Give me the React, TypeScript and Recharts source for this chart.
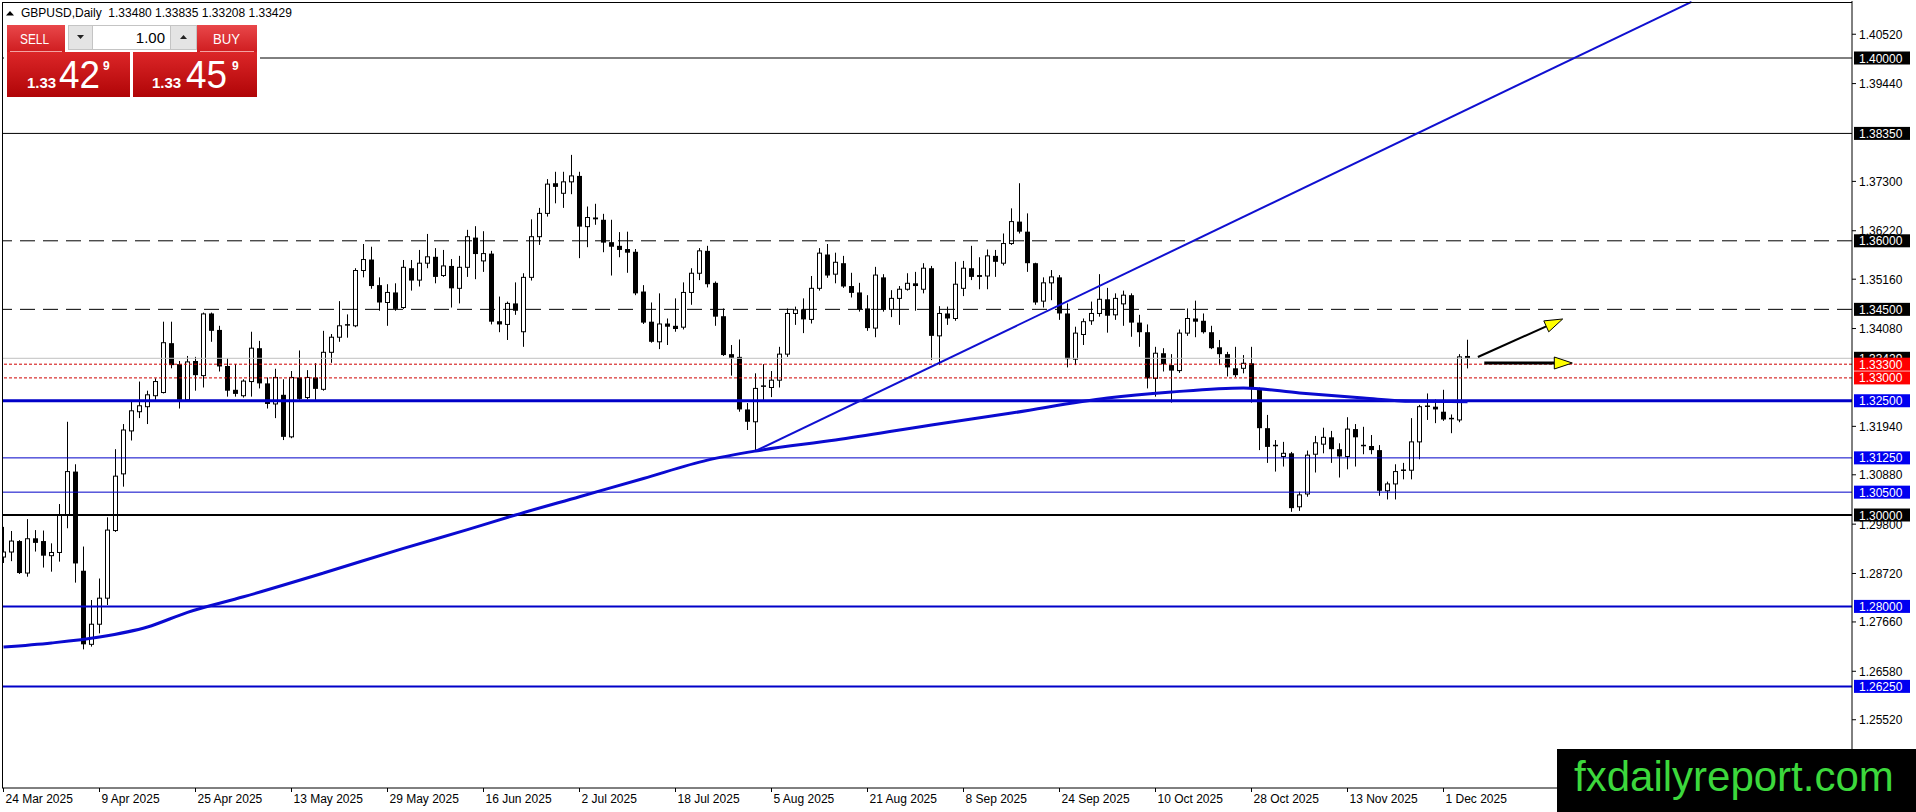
import { ComposedChart, Bar, Line, XAxis, YAxis, ReferenceLine } from "recharts"

// GBPUSD daily, one value per bar (bar 0 = 24 Mar 2025)
const opens = [
  1.2908, 1.2919, 1.2943, 1.2873, 1.2949, 1.2943, 1.2911, 1.2918, 1.3, 1.3095,
  1.2878, 1.2717, 1.2761, 1.2818, 1.2966, 1.309, 1.3184, 1.3226, 1.3237, 1.3261,
  1.3268, 1.3376, 1.333, 1.3252, 1.3337, 1.3305, 1.3441, 1.3405, 1.3326, 1.3274,
  1.3261, 1.3292, 1.3365, 1.3288, 1.3243, 1.3263, 1.3171, 1.3301, 1.3257, 1.3301,
  1.3275, 1.3356, 1.3389, 1.3414, 1.3414, 1.3535, 1.3559, 1.3503, 1.3465, 1.3487,
  1.3454, 1.354, 1.3514, 1.3551, 1.3565, 1.3524, 1.3545, 1.3496, 1.3542, 1.3607,
  1.3556, 1.3572, 1.3424, 1.3417, 1.3463, 1.3401, 1.352, 1.3609, 1.366, 1.3726,
  1.3704, 1.3729, 1.3742, 1.3631, 1.3651, 1.3646, 1.3597, 1.3589, 1.3582, 1.3576,
  1.3489, 1.3423, 1.3379, 1.3419, 1.3414, 1.3411, 1.3487, 1.3529, 1.3578, 1.3508,
  1.3435, 1.3352, 1.3346, 1.3231, 1.3204, 1.3279, 1.3279, 1.3295, 1.3352, 1.3441,
  1.345, 1.3428, 1.3496, 1.357, 1.3527, 1.3551, 1.3501, 1.3487, 1.3452, 1.3409,
  1.352, 1.345, 1.3474, 1.3494, 1.3507, 1.3494, 1.354, 1.3392, 1.3441, 1.343,
  1.3496, 1.354, 1.3525, 1.3523, 1.3567, 1.3551, 1.3594, 1.3642, 1.362, 1.3551,
  1.3468, 1.3508, 1.352, 1.3441, 1.3341, 1.3395, 1.3425, 1.3441, 1.3472, 1.3438,
  1.3462, 1.3481, 1.3421, 1.34, 1.3299, 1.3354, 1.3328, 1.3316, 1.3398, 1.343,
  1.3425, 1.34, 1.3367, 1.3352, 1.3321, 1.3321, 1.3332, 1.3274, 1.319, 1.315,
  1.3128, 1.3135, 1.3018, 1.3046, 1.3133, 1.3155, 1.317, 1.3144, 1.3128, 1.3188,
  1.3152, 1.3151, 1.3142, 1.3053, 1.3068, 1.3096, 1.3098, 1.316, 1.3236, 1.3237,
  1.3226, 1.3209, 1.3208, 1.3348,
]
const highs = [
  1.2974, 1.2965, 1.2945, 1.2991, 1.2967, 1.2966, 1.2938, 1.3024, 1.3204, 1.3111,
  1.2931, 1.2814, 1.2861, 1.2995, 1.3144, 1.3199, 1.3248, 1.3292, 1.3272, 1.3299,
  1.3423, 1.3423, 1.3337, 1.3348, 1.3346, 1.3443, 1.3443, 1.3414, 1.3343, 1.333,
  1.3297, 1.3401, 1.3381, 1.3301, 1.332, 1.3297, 1.3315, 1.336, 1.3317, 1.3332,
  1.3403, 1.3396, 1.3468, 1.3439, 1.354, 1.3593, 1.3587, 1.352, 1.3505, 1.3507,
  1.3558, 1.3558, 1.358, 1.3615, 1.3584, 1.358, 1.356, 1.3567, 1.3624, 1.3632,
  1.3621, 1.3578, 1.3478, 1.3467, 1.3509, 1.3529, 1.3647, 1.3672, 1.3735, 1.3751,
  1.3751, 1.3788, 1.3751, 1.3675, 1.3681, 1.3659, 1.3646, 1.3619, 1.362, 1.3582,
  1.3503, 1.3465, 1.3485, 1.343, 1.3474, 1.3509, 1.354, 1.3584, 1.3589, 1.3511,
  1.3452, 1.3372, 1.3384, 1.3245, 1.331, 1.333, 1.3315, 1.3368, 1.3452, 1.3456,
  1.3474, 1.3523, 1.3584, 1.3593, 1.3574, 1.3567, 1.353, 1.3508, 1.3481, 1.3543,
  1.3527, 1.3492, 1.3501, 1.3529, 1.3532, 1.3551, 1.3545, 1.3457, 1.3456, 1.3554,
  1.3556, 1.3589, 1.3564, 1.3581, 1.358, 1.3616, 1.3671, 1.3726, 1.366, 1.3552,
  1.352, 1.3536, 1.3525, 1.3463, 1.3412, 1.343, 1.3467, 1.3527, 1.3497, 1.3485,
  1.3491, 1.3485, 1.3438, 1.3417, 1.3368, 1.3365, 1.3352, 1.3406, 1.3452, 1.3469,
  1.3441, 1.3414, 1.3383, 1.3357, 1.3368, 1.335, 1.3368, 1.3279, 1.3219, 1.3164,
  1.316, 1.3138, 1.3051, 1.3141, 1.3173, 1.3191, 1.3184, 1.3157, 1.3214, 1.3199,
  1.3193, 1.3175, 1.3153, 1.3073, 1.3111, 1.3114, 1.3212, 1.3241, 1.3266, 1.3253,
  1.3274, 1.322, 1.3352, 1.33835,
]
const lows = [
  1.2895, 1.2899, 1.2871, 1.2865, 1.292, 1.2885, 1.2876, 1.2898, 1.2971, 1.2852,
  1.2706, 1.2712, 1.2741, 1.2803, 1.2963, 1.3062, 1.3163, 1.3212, 1.3199, 1.3252,
  1.3266, 1.3321, 1.3233, 1.3249, 1.3272, 1.3279, 1.3379, 1.3314, 1.3259, 1.3259,
  1.3257, 1.3259, 1.3277, 1.3233, 1.3212, 1.3164, 1.3168, 1.3252, 1.3253, 1.3252,
  1.3272, 1.3333, 1.3379, 1.3388, 1.3411, 1.352, 1.3495, 1.3447, 1.3414, 1.3447,
  1.3451, 1.3491, 1.35, 1.354, 1.3507, 1.3521, 1.3454, 1.3463, 1.3521, 1.3516,
  1.3532, 1.3417, 1.34, 1.3383, 1.3438, 1.3368, 1.3513, 1.3591, 1.3653, 1.3682,
  1.3672, 1.3702, 1.3562, 1.3586, 1.3635, 1.3575, 1.3524, 1.3564, 1.353, 1.3481,
  1.3418, 1.3377, 1.3363, 1.3372, 1.3401, 1.3406, 1.346, 1.3514, 1.3498, 1.3414,
  1.3348, 1.3305, 1.3226, 1.3186, 1.314, 1.3252, 1.3258, 1.3279, 1.3346, 1.3416,
  1.3398, 1.3419, 1.3491, 1.3519, 1.3507, 1.3497, 1.3476, 1.3445, 1.3403, 1.3389,
  1.3445, 1.3433, 1.3416, 1.3491, 1.3447, 1.3485, 1.3339, 1.3328, 1.3416, 1.3425,
  1.3479, 1.3514, 1.3494, 1.3494, 1.3521, 1.3546, 1.3591, 1.3616, 1.3532, 1.346,
  1.3454, 1.347, 1.3427, 1.3323, 1.3328, 1.3372, 1.3416, 1.3434, 1.3399, 1.3427,
  1.3414, 1.339, 1.3368, 1.3277, 1.3259, 1.3314, 1.3246, 1.3311, 1.3392, 1.3389,
  1.3397, 1.3363, 1.3328, 1.3303, 1.3302, 1.331, 1.3246, 1.3142, 1.3114, 1.3095,
  1.3106, 1.3007, 1.3009, 1.304, 1.3093, 1.3135, 1.3114, 1.3082, 1.31, 1.3106,
  1.3133, 1.3133, 1.3042, 1.3034, 1.3034, 1.3078, 1.3078, 1.3122, 1.3208, 1.3201,
  1.3206, 1.3179, 1.3203, 1.33208,
]
const closes = [
  1.2919, 1.2943, 1.2873, 1.2948, 1.2939, 1.2911, 1.2918, 1.3, 1.3095, 1.2894,
  1.2717, 1.2761, 1.2818, 1.2967, 1.3085, 1.3186, 1.3228, 1.3239, 1.3263, 1.3292,
  1.3377, 1.3328, 1.3252, 1.3335, 1.3306, 1.344, 1.3403, 1.3325, 1.3272, 1.3265,
  1.3293, 1.3365, 1.3288, 1.3243, 1.3301, 1.3171, 1.3301, 1.3254, 1.3301, 1.3276,
  1.3356, 1.3389, 1.3414, 1.3416, 1.3535, 1.3559, 1.3501, 1.3465, 1.3487, 1.3451,
  1.3542, 1.3513, 1.3551, 1.3565, 1.3521, 1.3545, 1.3496, 1.3542, 1.3609, 1.3571,
  1.3572, 1.3423, 1.3417, 1.3463, 1.3447, 1.352, 1.3609, 1.366, 1.3724, 1.3718,
  1.3729, 1.3742, 1.3631, 1.3651, 1.3647, 1.3596, 1.3587, 1.358, 1.3574, 1.3485,
  1.3421, 1.3379, 1.3418, 1.3412, 1.3407, 1.3487, 1.3529, 1.3578, 1.3505, 1.3434,
  1.335, 1.3344, 1.3231, 1.3204, 1.3277, 1.3282, 1.3295, 1.3352, 1.3441, 1.3449,
  1.3428, 1.3496, 1.3573, 1.3524, 1.3553, 1.35, 1.3486, 1.345, 1.3409, 1.3525,
  1.3449, 1.3474, 1.3494, 1.3507, 1.3501, 1.354, 1.3392, 1.3441, 1.343, 1.3505,
  1.354, 1.3521, 1.3521, 1.3567, 1.3554, 1.3594, 1.3642, 1.362, 1.3551, 1.3465,
  1.3508, 1.3521, 1.3441, 1.3341, 1.3398, 1.3423, 1.3441, 1.3472, 1.3436, 1.3474,
  1.3481, 1.3421, 1.34, 1.3299, 1.3354, 1.333, 1.3316, 1.3398, 1.343, 1.3423,
  1.34, 1.3365, 1.3352, 1.3323, 1.3306, 1.3332, 1.3277, 1.319, 1.3149, 1.3152,
  1.3135, 1.3015, 1.3044, 1.3131, 1.3158, 1.317, 1.3144, 1.3128, 1.3188, 1.317,
  1.3151, 1.3142, 1.3053, 1.3068, 1.3095, 1.3098, 1.316, 1.3237, 1.3238, 1.3231,
  1.3209, 1.3211, 1.3346, 1.33429,
]

// 200-day moving average, read at sample bars
const maBars = [0, 6, 12, 18, 23, 30, 40, 50, 58, 64, 72, 80, 88, 94, 104, 116, 126, 138, 146, 155, 162, 170, 176, 183]
const maValues = [
  1.2711, 1.272, 1.2733, 1.2755, 1.2787, 1.2821, 1.2873, 1.2927, 1.2968, 1.3, 1.304, 1.308,
  1.312, 1.314, 1.3164, 1.3197, 1.3223, 1.3256, 1.3269, 1.3278, 1.3267, 1.3256, 1.3249, 1.3248,
]

const dateLabels = [
  "24 Mar 2025", "9 Apr 2025", "25 Apr 2025", "13 May 2025", "29 May 2025", "16 Jun 2025",
  "2 Jul 2025", "18 Jul 2025", "5 Aug 2025", "21 Aug 2025", "8 Sep 2025", "24 Sep 2025",
  "10 Oct 2025", "28 Oct 2025", "13 Nov 2025", "1 Dec 2025",
]
const labelBars = [0, 12, 24, 36, 48, 60, 72, 84, 96, 108, 120, 132, 144, 156, 168, 180]

const priceTicks = [1.4052, 1.3944, 1.373, 1.3622, 1.3516, 1.3408, 1.3194, 1.3088, 1.298, 1.2872, 1.2766, 1.2658, 1.2552]
const levelPrices = [1.4, 1.3835, 1.36, 1.345, 1.33429, 1.333, 1.33, 1.325, 1.3125, 1.305, 1.3, 1.28, 1.2625]
const levelKinds = ["solid", "solid", "dash", "dash", "price", "dot", "dot", "blueBold", "blue", "blue", "black2", "blueMid", "blueMid"]

const trendBars = [94, 211]
const trendPrices = [1.314, 1.4123]
const arrowUpBars = [184.3, 194.9]
const arrowUpPrices = [1.33457, 1.34289]
const arrowFlatBars = [185.1, 196.1]
const arrowFlatPrices = [1.33326, 1.33326]

const candles = opens.map((o, i) => ({ i, o, h: highs[i], l: lows[i], c: closes[i] }))
const maData = maBars.map((b, k) => ({ i: b, v: maValues[k] }))

const kindStyle: Record<string, { stroke: string; w: number; dash?: string; bg: string }> = {
  solid: { stroke: "#000", w: 1, bg: "#000" },
  dash: { stroke: "#000", w: 1, dash: "15 8", bg: "#000" },
  price: { stroke: "#c0c0c0", w: 1, bg: "#000" },
  dot: { stroke: "#d00000", w: 1, dash: "3 2", bg: "#ff0000" },
  blueBold: { stroke: "#0000c8", w: 3, bg: "#0000f0" },
  blueMid: { stroke: "#0000c8", w: 2, bg: "#0000f0" },
  blue: { stroke: "#0000c8", w: 1, bg: "#0000f0" },
  black2: { stroke: "#000", w: 2, bg: "#000" },
}

const FONT = "'Liberation Sans', Arial, sans-serif"

function renderCandle(props: any) {
  const { x, y, width, height, payload } = props
  if (x == null || y == null || !payload) return <g />
  const cx = Math.round(x + width / 2 - 0.5) + 0.5
  const span = payload.h - payload.l
  const k = span > 0 ? height / span : 0
  const yO = y + (payload.h - payload.o) * k
  const yC = y + (payload.h - payload.c) * k
  const top = Math.min(yO, yC)
  const bot = Math.max(yO, yC)
  const up = payload.c >= payload.o
  return (
    <g>
      <line x1={cx} x2={cx} y1={y} y2={y + height} stroke="#000" strokeWidth={1} />
      {bot - top < 1.5 ? (
        <line x1={cx - 2.5} x2={cx + 2.5} y1={top} y2={top} stroke="#000" strokeWidth={1.5} />
      ) : up ? (
        <rect x={cx - 2} y={top} width={4} height={bot - top} fill="#fff" stroke="#000" strokeWidth={1} />
      ) : (
        <rect x={cx - 2.5} y={top} width={5} height={bot - top} fill="#000" />
      )}
    </g>
  )
}

const arrowShape = (lw: number) => (p: any) => {
  const { x1, y1, x2, y2 } = p
  const dx = x2 - x1
  const dy = y2 - y1
  const len = Math.hypot(dx, dy) || 1
  const ux = dx / len
  const uy = dy / len
  const bx = x2 - ux * 18
  const by = y2 - uy * 18
  const pts = `${x2},${y2} ${bx - uy * 6},${by + ux * 6} ${bx + uy * 6},${by - ux * 6}`
  return (
    <g>
      <line x1={x1} y1={y1} x2={bx} y2={by} stroke="#000" strokeWidth={lw} />
      <polygon points={pts} fill="#ffff00" stroke="#000" strokeWidth={1} />
    </g>
  )
}

function PriceTick(props: any) {
  const { x, y, payload } = props
  const v = payload.value
  const li = levelPrices.indexOf(v)
  if (li >= 0) {
    const st = kindStyle[levelKinds[li]]
    return (
      <g>
        <rect x={x + 2} y={y - 6.5} width={56} height={13} fill={st.bg} />
        <text x={x + 7} y={y + 4.5} fill="#fff" fontSize={12} fontFamily={FONT}>
          {v.toFixed(5)}
        </text>
      </g>
    )
  }
  return (
    <g>
      <line x1={x} x2={x + 4} y1={y} y2={y} stroke="#000" />
      <text x={x + 7} y={y + 4.5} fill="#000" fontSize={12} fontFamily={FONT}>
        {v.toFixed(5)}
      </text>
    </g>
  )
}

function DateTick(props: any) {
  const { x, y, payload } = props
  const k = labelBars.indexOf(payload.value)
  if (k < 0) return <g />
  return (
    <g>
      <line x1={x} x2={x} y1={y} y2={y + 4} stroke="#000" />
      <text x={x + 2} y={y + 15} fill="#000" fontSize={12} fontFamily={FONT}>
        {dateLabels[k]}
      </text>
    </g>
  )
}

function TradePanel() {
  return (
    <g fontFamily={FONT}>
      <defs>
        <linearGradient id="lblGrad" x1="0" y1="0" x2="0" y2="1">
          <stop offset="0" stopColor="#e9474a" />
          <stop offset="1" stopColor="#cf1d20" />
        </linearGradient>
        <linearGradient id="pxGrad" x1="0" y1="0" x2="0" y2="1">
          <stop offset="0" stopColor="#dc2628" />
          <stop offset="1" stopColor="#b00507" />
        </linearGradient>
      </defs>
      <rect x={4} y={22} width={256} height={78} fill="#fff" />
      <rect x={7} y={25} width={58} height={27} fill="url(#lblGrad)" />
      <text x={20} y={44} fill="#fff" fontSize={14} textLength={29} lengthAdjust="spacingAndGlyphs">SELL</text>
      <line x1={10} x2={62} y1={51.5} y2={51.5} stroke="#f3a2a2" />
      <rect x={68.5} y={25.5} width={128} height={24} fill="#fff" stroke="#c4c4c4" />
      <rect x={68.5} y={25.5} width={24} height={24} fill="#e4e4e4" stroke="#c4c4c4" />
      <polygon points="77,35 84,35 80.5,39" fill="#222" />
      <rect x={170.5} y={25.5} width={26} height={24} fill="#e4e4e4" stroke="#c4c4c4" />
      <polygon points="180,39 187,39 183.5,35" fill="#222" />
      <text x={165} y={43} textAnchor="end" fill="#000" fontSize={15}>1.00</text>
      <rect x={197} y={25} width={60} height={27} fill="url(#lblGrad)" />
      <text x={213} y={44} fill="#fff" fontSize={14} textLength={27} lengthAdjust="spacingAndGlyphs">BUY</text>
      <line x1={200} x2={254} y1={51.5} y2={51.5} stroke="#f3a2a2" />
      <rect x={7} y={52} width={123} height={45} fill="url(#pxGrad)" />
      <text x={27} y={88} fill="#fff" fontSize={15} fontWeight="bold">1.33</text>
      <text x={59} y={88} fill="#fff" fontSize={38} textLength={41} lengthAdjust="spacingAndGlyphs">42</text>
      <text x={103} y={70} fill="#fff" fontSize={12} fontWeight="bold">9</text>
      <rect x={133} y={52} width={124} height={45} fill="url(#pxGrad)" />
      <text x={152} y={88} fill="#fff" fontSize={15} fontWeight="bold">1.33</text>
      <text x={186} y={88} fill="#fff" fontSize={38} textLength={41} lengthAdjust="spacingAndGlyphs">45</text>
      <text x={232} y={70} fill="#fff" fontSize={12} fontWeight="bold">9</text>
    </g>
  )
}

export default function App() {
  return (
    <div
      style={{
        position: "fixed",
        left: 0,
        top: 0,
        width: 1916,
        height: 812,
        background: "#fff",
        overflow: "hidden",
        fontFamily: FONT,
      }}
    >
      <ComposedChart width={1916} height={812} data={candles} margin={{ top: 1, right: 0, bottom: 0, left: 2 }}>
        <XAxis
          dataKey="i"
          type="number"
          domain={[-0.1875, 231.0625]}
          allowDataOverflow
          ticks={labelBars}
          interval={0}
          height={24}
          tickSize={0}
          tickMargin={0}
          axisLine={{ stroke: "#000" }}
          tickLine={false}
          tick={<DateTick />}
        />
        <YAxis
          orientation="right"
          type="number"
          domain={[1.240263, 1.412473]}
          allowDataOverflow
          ticks={[...priceTicks, ...levelPrices]}
          interval={0}
          width={64}
          tickSize={0}
          tickMargin={0}
          axisLine={{ stroke: "#000" }}
          tickLine={false}
          tick={<PriceTick />}
        />
        {levelPrices.map((p, k) => {
          const st = kindStyle[levelKinds[k]]
          return (
            <ReferenceLine
              key={"lv" + k}
              y={p}
              stroke={st.stroke}
              strokeWidth={st.w}
              strokeDasharray={st.dash}
            />
          )
        })}
        <Bar dataKey={(d: any) => [d.l, d.h]} barSize={5} shape={renderCandle} isAnimationActive={false} />
        <Line
          data={maData}
          dataKey="v"
          type="monotone"
          stroke="#0a0ad0"
          strokeWidth={3}
          dot={false}
          isAnimationActive={false}
        />
        <ReferenceLine
          segment={[
            { x: trendBars[0], y: trendPrices[0] },
            { x: trendBars[1], y: trendPrices[1] },
          ]}
          stroke="#1010d0"
          strokeWidth={2}
        />
        <ReferenceLine
          segment={[
            { x: arrowUpBars[0], y: arrowUpPrices[0] },
            { x: arrowUpBars[1], y: arrowUpPrices[1] },
          ]}
          shape={arrowShape(2)}
        />
        <ReferenceLine
          segment={[
            { x: arrowFlatBars[0], y: arrowFlatPrices[0] },
            { x: arrowFlatBars[1], y: arrowFlatPrices[1] },
          ]}
          shape={arrowShape(3)}
        />
      </ComposedChart>
      <svg width={1916} height={812} style={{ position: "absolute", left: 0, top: 0, pointerEvents: "none" }}>
        <line x1={2.5} x2={2.5} y1={2} y2={788} stroke="#000" />
        <line x1={2} x2={1852} y1={2.5} y2={2.5} stroke="#000" />
        <polygon points="6,15.5 14,15.5 10,11" fill="#000" />
        <text x={21} y={16.5} fontSize={12} fontFamily={FONT} fill="#000" style={{ whiteSpace: "pre" }}>
          GBPUSD,Daily  1.33480 1.33835 1.33208 1.33429
        </text>
        <TradePanel />
        <rect x={1557} y={749} width={359} height={63} fill="#000" />
        <text x={1574} y={791} fontSize={42} fontFamily={FONT} fill="#3cd83c">
          fxdailyreport.com
        </text>
      </svg>
    </div>
  )
}
